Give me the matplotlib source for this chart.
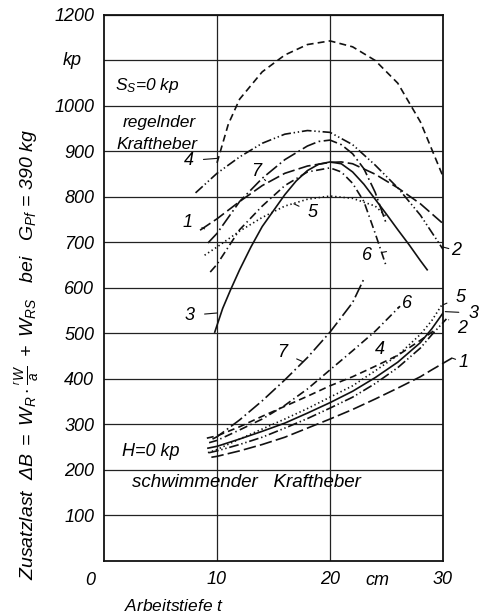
import matplotlib.pyplot as plt

plt.rcParams['font.family'] = 'Liberation Sans'
plt.rcParams['font.style'] = 'italic'
plt.rcParams['mathtext.fontset'] = 'custom'
plt.rcParams['mathtext.rm'] = 'Liberation Sans:italic'
plt.rcParams['mathtext.it'] = 'Liberation Sans:italic'
plt.rcParams['lines.scale_dashes'] = False

# regelnder Kraftheber (upper family), Arbeitstiefe in cm -> Zusatzlast in kp
up_x1 = [8.5, 10, 12, 14, 16, 18, 20, 21, 22, 24, 26, 28, 30.3]
up_y1 = [727, 752, 790, 825, 852, 868, 876, 877, 873, 850, 820, 785, 735]
up_x2 = [8.1, 10, 12, 14, 16, 18, 20, 22, 24, 26, 28, 30]
up_y2 = [809, 852, 888, 918, 938, 946, 942, 915, 870, 820, 760, 685]
up_x3 = [9.8, 10.5, 11.2, 12, 13, 14, 15, 16, 17, 18, 19, 20, 21, 22, 23, 24, 25, 26, 27, 28, 28.6]
up_y3 = [503, 555, 596, 640, 690, 735, 770, 805, 835, 858, 872, 877, 873, 855, 828, 795, 762, 728, 695, 660, 640]
up_x4 = [10, 11, 12, 14, 16, 18, 20, 22, 24, 26, 28, 29, 30.2]
up_y4 = [875, 960, 1015, 1075, 1112, 1135, 1143, 1130, 1100, 1050, 965, 905, 833]
up_x5 = [8.9, 10, 12, 14, 16, 18, 20, 22, 24, 25]
up_y5 = [672, 690, 725, 755, 780, 795, 802, 797, 780, 757]
up_x6 = [9.4, 10, 12, 14, 16, 18, 20, 21, 22, 23, 24, 25]
up_y6 = [635, 652, 728, 780, 825, 855, 864, 855, 830, 790, 720, 646]
up_x7 = [9.2, 10, 12, 14, 16, 18, 19, 20, 21, 22, 23, 24, 25]
up_y7 = [699, 720, 790, 841, 882, 912, 922, 925, 915, 895, 862, 810, 740]

# schwimmender Kraftheber (lower family)
lo_x1 = [9.5, 10, 12, 14, 16, 18, 20, 22, 24, 26, 28, 29, 30.8]
lo_y1 = [228, 230, 242, 256, 272, 292, 312, 333, 356, 380, 405, 420, 446]
lo_x2 = [9.3, 10, 12, 14, 16, 18, 20, 22, 24, 26, 28, 29, 30.3]
lo_y2 = [238, 242, 256, 272, 292, 313, 336, 360, 390, 425, 468, 497, 532]
lo_x3 = [9.2, 10, 12, 14, 16, 18, 20, 22, 24, 26, 28, 29, 30]
lo_y3 = [248, 252, 268, 285, 303, 325, 348, 373, 403, 437, 480, 510, 545]
lo_x4 = [9.1, 10, 12, 14, 16, 18, 20, 22, 24, 26, 28, 29.3]
lo_y4 = [270, 275, 295, 318, 340, 362, 385, 405, 428, 452, 485, 508]
lo_x5 = [9.2, 10, 12, 14, 16, 18, 20, 22, 24, 26, 28, 29, 29.9]
lo_y5 = [238, 245, 268, 290, 312, 335, 360, 385, 418, 452, 498, 528, 563]
lo_x6 = [9.3, 10, 12, 14, 16, 18, 20, 22, 24, 26.2]
lo_y6 = [260, 265, 288, 312, 342, 378, 420, 462, 505, 560]
lo_x7 = [9.6, 10, 12, 14, 16, 18, 20, 22, 23]
lo_y7 = [268, 273, 310, 352, 398, 447, 503, 568, 620]

yticks = [100, 200, 300, 400, 500, 600, 700, 800, 900, 1000, 1100, 1200]
ylabels = ['100', '200', '300', '400', '500', '600', '700', '800', '900', '1000', '', '1200']
xticks = [10, 20, 30]
xlabels = ['10', '20', '30']

styles = {
    1: (0, (9, 3)),
    2: (0, (7, 2, 1, 2, 1, 2)),
    3: '-',
    4: (0, (5, 3)),
    5: (0, (1, 2)),
    6: (0, (6, 2.5, 1, 2.5)),
    7: (0, (10, 2.5, 1.2, 2.5)),
}

fig = plt.figure(figsize=(4.82, 6.16), dpi=100)
ax = fig.add_axes([0.2158, 0.0893, 0.7033, 0.8864])
ax.set_xlim(0, 30)
ax.set_ylim(0, 1200)

for y in yticks:
    ax.axhline(y, color='#222222', lw=0.9, zorder=1)
for x in [10, 20]:
    ax.axvline(x, color='#222222', lw=0.9, zorder=1)

lw = 1.2
c = '#111111'
ax.plot(up_x1, up_y1, color=c, lw=lw, ls=styles[1])
ax.plot(up_x2, up_y2, color=c, lw=lw, ls=styles[2])
ax.plot(up_x3, up_y3, color=c, lw=lw, ls=styles[3])
ax.plot(up_x4, up_y4, color=c, lw=lw, ls=styles[4])
ax.plot(up_x5, up_y5, color=c, lw=lw, ls=styles[5])
ax.plot(up_x6, up_y6, color=c, lw=lw, ls=styles[6])
ax.plot(up_x7, up_y7, color=c, lw=lw, ls=styles[7])
ax.plot(lo_x1, lo_y1, color=c, lw=lw, ls=styles[1], clip_on=False)
ax.plot(lo_x2, lo_y2, color=c, lw=lw, ls=styles[2], clip_on=False)
ax.plot(lo_x3, lo_y3, color=c, lw=lw, ls=styles[3])
ax.plot(lo_x4, lo_y4, color=c, lw=lw, ls=styles[4])
ax.plot(lo_x5, lo_y5, color=c, lw=lw, ls=styles[5])
ax.plot(lo_x6, lo_y6, color=c, lw=lw, ls=styles[6])
ax.plot(lo_x7, lo_y7, color=c, lw=lw, ls=styles[7])

for s in ax.spines.values():
    s.set_linewidth(1.3)
    s.set_color('#111111')

ax.set_yticks(yticks)
ax.set_yticklabels(ylabels)
ax.set_xticks(xticks)
ax.set_xticklabels(xlabels)
ax.tick_params(length=0, labelsize=13, pad=7)
ax.tick_params(axis='x', pad=7)

fs = 13
ax.text(-2.8, 1100, 'kp', fontsize=fs, ha='center', va='center')
ax.text(-1.2, -42, '0', fontsize=fs, ha='center', va='center', clip_on=False)
ax.text(24.2, -42, 'cm', fontsize=fs, ha='center', va='center', clip_on=False)
ax.text(1.8, -100, 'Arbeitstiefe $t$', fontsize=12.5, ha='left', va='center', clip_on=False)

ax.text(1.0, 1045, r'$S_S$=0 kp', fontsize=12.5, ha='left', va='center')
ax.text(4.9, 964, 'regelnder', fontsize=12.5, ha='center', va='center')
ax.text(4.7, 915, 'Kraftheber', fontsize=12.5, ha='center', va='center')
ax.text(1.6, 240, 'H=0 kp', fontsize=13, ha='left', va='center')
ax.text(12.6, 172, 'schwimmender   Kraftheber', fontsize=13.5, ha='center', va='center')

fig.text(0.056, 0.424,
         r'Zusatzlast  $\Delta B\ =\ W_R\cdot\frac{{}^{r}W}{a}\ +\ W_{RS}$   bei   $G_{Pf}$ = 390 kg',
         rotation=90, fontsize=14, ha='center', va='center')

# curve numbers with short leader lines: (label, text xy, line end xy)
marks = [
    ('4', (7.5, 880), (10.1, 885)),
    ('7', (13.5, 855), (14.3, 836)),
    ('1', (7.4, 745), (8.9, 730)),
    ('5', (18.5, 765), (16.8, 785)),
    ('6', (23.3, 672), (25.0, 680)),
    ('2', (31.2, 682), (30.0, 690)),
    ('3', (7.6, 540), (10.0, 545)),
    ('7', (15.8, 458), (17.6, 438)),
    ('6', (26.8, 565), (26.0, 557)),
    ('4', (24.4, 465), (25.7, 447)),
    ('5', (31.6, 580), (30.0, 563)),
    ('3', (32.7, 545), (30.2, 548)),
    ('2', (31.7, 510), (30.5, 530)),
    ('1', (31.8, 437), (30.8, 446)),
]
for lab, txy, lxy in marks:
    ax.annotate(lab, xy=lxy, xytext=txy, fontsize=13, ha='center', va='center',
                annotation_clip=False,
                arrowprops=dict(arrowstyle='-', lw=0.8, color=c, shrinkA=5, shrinkB=0))

fig.savefig('out.png', dpi=100, facecolor='white')
